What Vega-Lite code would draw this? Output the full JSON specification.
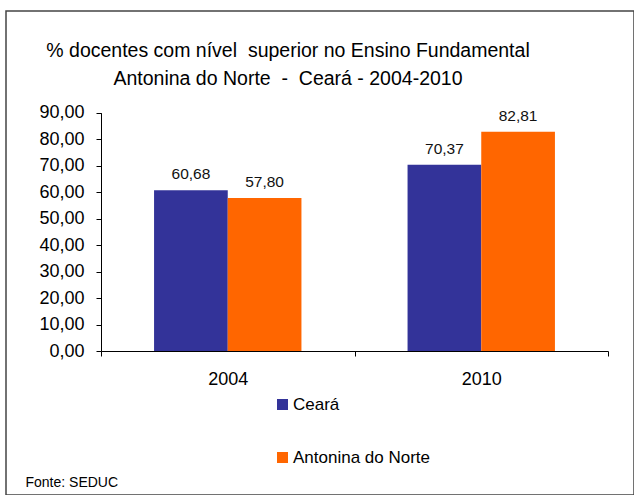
{
  "$schema": "https://vega.github.io/schema/vega-lite/v6.json",
  "autosize": {"type": "none"},
  "padding": {"left": 6, "top": 11, "right": 0, "bottom": 0},
  "width": 628,
  "height": 484,
  "background": "white",
  "title": {
    "text": ["% docentes com nível \u00a0superior no Ensino Fundamental", "Antonina do Norte \u00a0-\u00a0 Ceará - 2004-2010"],
    "anchor": "middle",
    "frame": "group",
    "dx": -32,
    "offset": -78,
    "fontSize": 19.5,
    "fontWeight": "normal",
    "font": "Liberation Sans",
    "color": "#000000",
    "lineHeight": 28
  },
  "data": {
    "values": [
      {"ano": "2004", "serie": "Ceará", "valor": 60.68},
      {"ano": "2004", "serie": "Antonina do Norte", "valor": 57.80},
      {"ano": "2010", "serie": "Ceará", "valor": 70.37},
      {"ano": "2010", "serie": "Antonina do Norte", "valor": 82.81}
    ]
  },
  "encoding": {
    "x": {
      "field": "ano", "type": "nominal",
      "scale": {"range": [95, 602], "paddingInner": 0, "paddingOuter": 0},
      "axis": {
        "orient": "bottom", "offset": -144, "labelAngle": 0,
        "tickBand": "extent", "tickSize": 5, "tickColor": "#000", "domainColor": "#000",
        "labelFontSize": 18, "labelFont": "Liberation Sans", "labelColor": "#000", "labelPadding": 14,
        "title": "Fonte: SEDUC", "titleX": 19, "titleY": 135, "titleAlign": "left", "titleAnchor": "start",
        "titleBaseline": "alphabetic", "titleFontSize": 14, "titleFontWeight": "normal",
        "titleFont": "Liberation Sans", "titleColor": "#000"
      }
    },
    "xOffset": {"field": "serie", "type": "nominal", "sort": ["Ceará", "Antonina do Norte"],
      "scale": {"paddingOuter": 0.72, "paddingInner": 0}},
    "y": {
      "field": "valor", "type": "quantitative",
      "scale": {"domain": [0, 90], "range": [340, 101.7], "nice": false},
      "axis": {
        "orient": "left", "offset": -95, "values": [0, 10, 20, 30, 40, 50, 60, 70, 80, 90],
        "format": ".2f", "grid": false, "tickSize": 5, "tickColor": "#000", "domainColor": "#000",
        "labelFontSize": 18, "labelFont": "Liberation Sans", "labelColor": "#000", "labelPadding": 12,
        "title": null
      }
    }
  },
  "layer": [
    {
      "mark": {"type": "bar"},
      "encoding": {
        "color": {
          "field": "serie", "type": "nominal",
          "scale": {"domain": ["Ceará", "Antonina do Norte"], "range": ["#333399", "#FF6600"]},
          "legend": {
            "orient": "none", "legendX": 268, "legendY": 385, "title": null,
            "symbolType": "square", "symbolSize": 121, "symbolStrokeWidth": 0,
            "rowPadding": 35, "labelFontSize": 17, "labelFont": "Liberation Sans",
            "labelColor": "#000", "labelOffset": 2
          }
        }
      }
    },
    {
      "mark": {"type": "text", "baseline": "alphabetic", "dy": -11, "fontSize": 15.5, "font": "Liberation Sans", "color": "#111"},
      "encoding": {
        "text": {"field": "valor", "type": "quantitative", "format": ".2f"}
      }
    }
  ],
  "config": {
    "view": {"stroke": "#444444", "strokeWidth": 1.5},
    "locale": {"number": {"decimal": ",", "thousands": ".", "grouping": [3], "currency": ["R$", ""]}}
  }
}
